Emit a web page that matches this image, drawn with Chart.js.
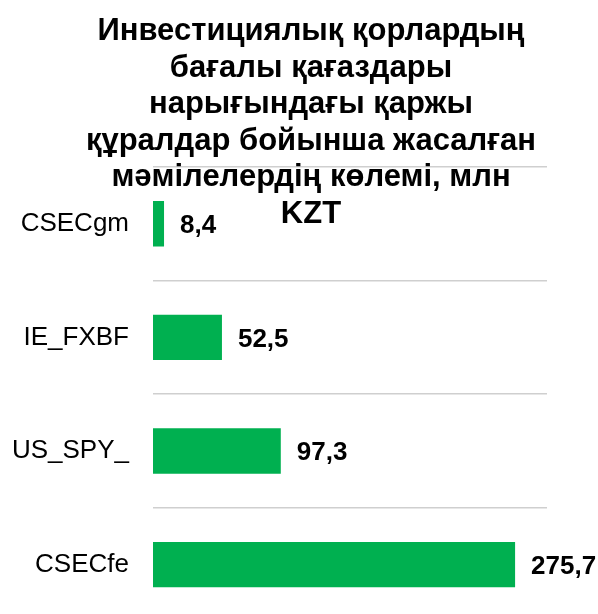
<!DOCTYPE html>
<html>
<head>
<meta charset="utf-8">
<script src="https://cdn.jsdelivr.net/npm/chart.js@4/dist/chart.umd.min.js"></script>
<style>
  html, body { margin: 0; padding: 0; background: #fff; overflow: hidden; }
  .wrap { position: relative; width: 598px; height: 661px; }
  canvas { display: block; }
  .chart-title {
    position: absolute;
    left: 11px;
    width: 600px;
    top: 12px;
    text-align: center;
    font: bold 31px "Liberation Sans", Arial, sans-serif;
    line-height: 36.6px;
    color: #000;
    pointer-events: none;
  }
</style>
</head>
<body>
<div class="wrap">
  <canvas id="chart" width="598" height="661"></canvas>
  <div class="chart-title" id="title"></div>
</div>
<script>
const titleLines = [
  "Инвестициялық қорлардың",
  "бағалы қағаздары",
  "нарығындағы қаржы",
  "құралдар бойынша жасалған",
  "мәмілелердің көлемі, млн",
  "KZT",
];
const categories = ["CSECgm", "IE_FXBF", "US_SPY_", "CSECfe"];
const volumes = [8.4, 52.5, 97.3, 275.7];
const xMax = 300;

const FONT = '"Liberation Sans", Arial, sans-serif';

document.getElementById("title").innerHTML = titleLines.join("<br>");

function fmt(v) {
  return v.toFixed(1).replace(".", ",");
}

// value labels right of each bar
const barLabels = {
  id: "barLabels",
  afterDatasetsDraw(chart) {
    const { ctx } = chart;
    const meta = chart.getDatasetMeta(0);
    ctx.save();
    ctx.font = `bold 26px ${FONT}`;
    ctx.fillStyle = "#000";
    ctx.textAlign = "left";
    ctx.textBaseline = "middle";
    meta.data.forEach((bar, i) => {
      ctx.fillText(fmt(volumes[i]), bar.x + 16, bar.y + 2);
    });
    ctx.restore();
  },
};

new Chart(document.getElementById("chart"), {
  type: "bar",
  data: {
    labels: categories,
    datasets: [
      {
        data: volumes,
        backgroundColor: "#00b050",
        borderWidth: 0,
        barPercentage: 0.4,
        categoryPercentage: 1,
      },
    ],
  },
  options: {
    indexAxis: "y",
    responsive: false,
    animation: false,
    devicePixelRatio: 1,
    layout: { padding: { top: 167, right: 51, bottom: 1, left: 0 } },
    plugins: {
      legend: { display: false },
      tooltip: { enabled: false },
    },
    scales: {
      x: {
        display: false,
        min: 0,
        max: xMax,
      },
      y: {
        border: { display: false },
        grid: { color: "#cfcfcf", lineWidth: 1.5, drawTicks: false, offset: true },
        ticks: { color: "#000", padding: 24, font: { family: FONT, size: 26 } },
        afterFit(scale) {
          scale.width = 153;
        },
      },
    },
  },
  plugins: [barLabels],
});
</script>
</body>
</html>
